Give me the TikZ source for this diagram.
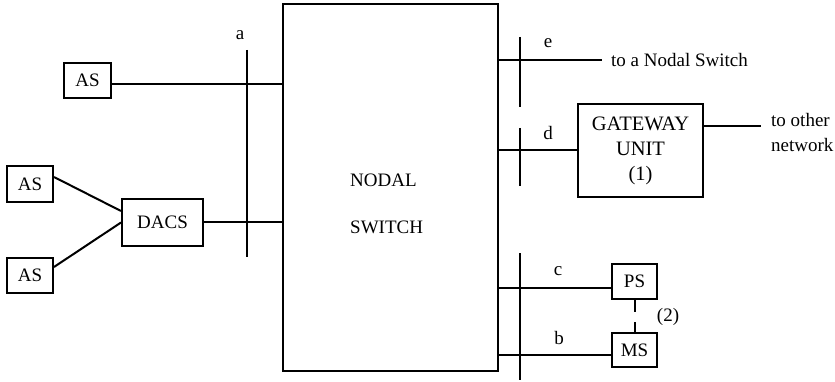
\documentclass[tikz,border=0pt]{standalone}
\usepackage{fontspec}
\setmainfont{Liberation Serif}
\begin{document}
\begin{tikzpicture}[x=1pt,y=-1pt,
  every node/.style={font=\fontsize{19}{25}\selectfont},
  box/.style={draw,line width=2pt,inner sep=0pt},
  wire/.style={line width=2pt},
  lbl/.style={inner sep=0pt}]
\useasboundingbox (0,0) rectangle (835,382);
% boxes
\node[box,minimum width=215pt,minimum height=367pt] (ns) at (390.5,187.5) {};
\node[lbl,align=left,anchor=west] (nstext) at (350,203.5) {NODAL\\[22pt]SWITCH};
\node[box,minimum width=47pt,minimum height=35pt] (as1) at (87.5,80.5) {AS};
\node[box,minimum width=46pt,minimum height=36pt] (as2) at (30,184) {AS};
\node[box,minimum width=46pt,minimum height=35pt] (as3) at (30,275.5) {AS};
\node[box,minimum width=81pt,minimum height=47pt] (dacs) at (162.5,222.5) {DACS};
\node[box,minimum width=125pt,minimum height=93pt,align=center,font=\fontsize{20.5}{25}\selectfont] (gw) at (640.5,150.5) {GATEWAY\\UNIT\\(1)};
\node[box,minimum width=45pt,minimum height=35pt] (ps) at (634.5,281.5) {PS};
\node[box,minimum width=45pt,minimum height=34pt] (ms) at (634.5,350) {MS};
% bars
\coordinate (a1) at (247,50); \coordinate (a2) at (247,257);
\coordinate (e1) at (520,37); \coordinate (e2) at (520,107);
\coordinate (d1) at (520,128); \coordinate (d2) at (520,186);
\coordinate (cb1) at (520,253); \coordinate (cb2) at (520,380);
\draw[wire] (a1) -- (a2);
\draw[wire] (e1) -- (e2);
\draw[wire] (d1) -- (d2);
\draw[wire] (cb1) -- (cb2);
% labels
\node[lbl] (la) at (240,35) {a};
\node[lbl] (le) at (548,43) {e};
\node[lbl] (ld) at (548,133) {d};
\node[lbl] (lc) at (558,271) {c};
\node[lbl] (lb) at (559,338) {b};
\node[lbl,anchor=west] (tons) at (611,60) {to a Nodal Switch};
\node[lbl,anchor=west,align=left] (tonet) at (771,133) {to other\\network};
\node[lbl] (two) at (668,317) {(2)};
% connectors
\draw[wire] ([yshift=-3.5pt]as1.east) -- ([yshift=-3.5pt]as1.east -| ns.west);
\draw[wire] (dacs.east) -- (dacs.east -| ns.west);
\draw[wire] ([yshift=7pt]as2.east) -- ([yshift=11.5pt]dacs.west);
\draw[wire] ([yshift=8.5pt]as3.east) -- (dacs.west);
\coordinate (eend) at (602,60);
\draw[wire] (ns.east |- eend) -- (eend);
\draw[wire] ([yshift=0.5pt]gw.west -| ns.east) -- ([yshift=0.5pt]gw.west);
\coordinate (gwend) at (761,126);
\draw[wire] (gw.east |- gwend) -- (gwend);
\draw[wire] ([yshift=-6.5pt]ps.west -| ns.east) -- ([yshift=-6.5pt]ps.west);
\draw[wire] ([yshift=-5pt]ms.west -| ns.east) -- ([yshift=-5pt]ms.west);
\draw[wire,dash pattern=on 12pt off 10pt] (ps.south) -- (ms.north);
\end{tikzpicture}
\end{document}
